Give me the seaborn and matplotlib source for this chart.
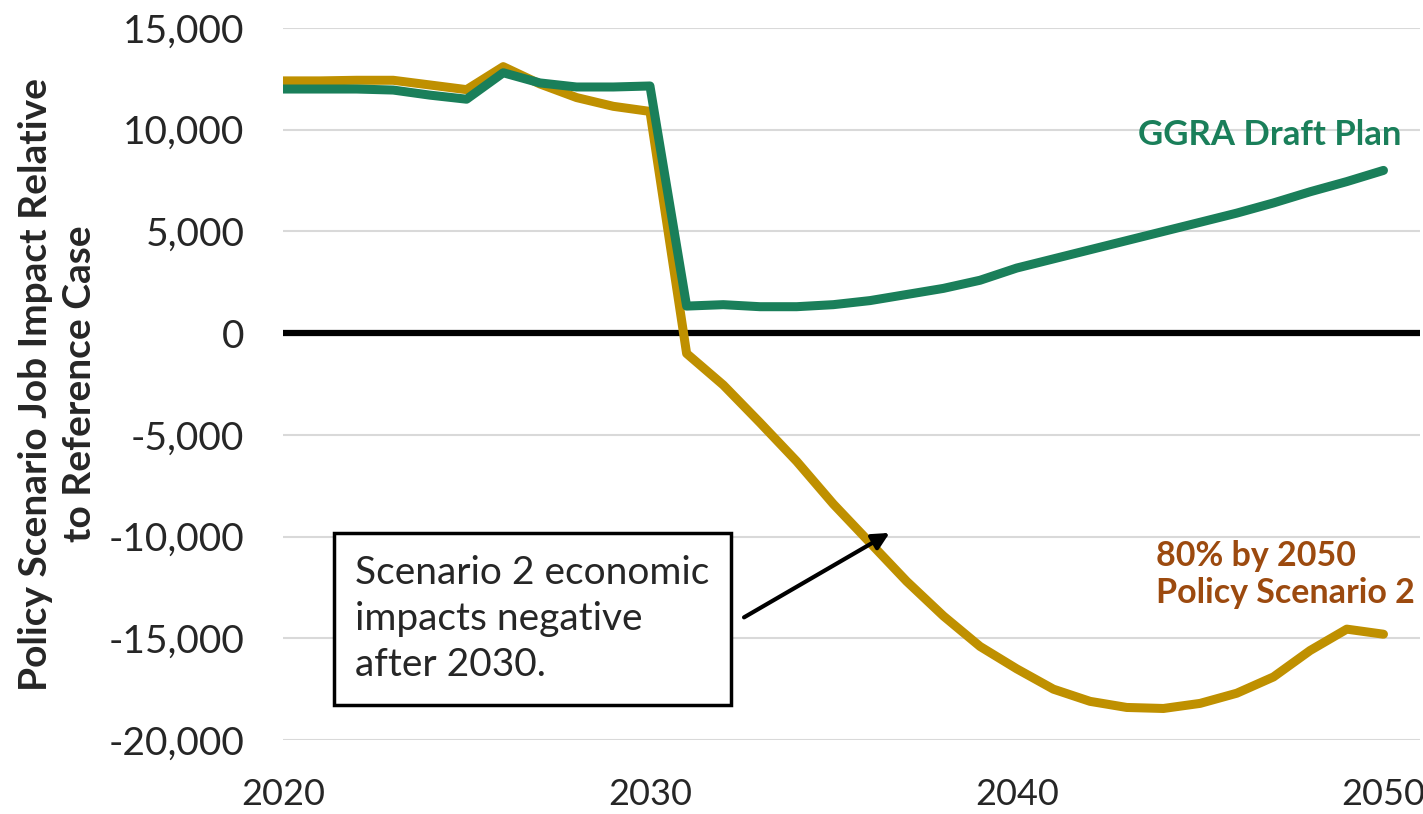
import pandas as pd
import numpy as np
import matplotlib.pyplot as plt
import seaborn as sns

years = list(range(2020, 2051))
ggra = [12000, 12000, 12000, 11950, 11700, 11500, 12800, 12300, 12100, 12100, 12150,
        1330, 1400, 1300, 1300, 1400, 1600, 1900, 2200, 2600, 3200, 3650, 4100, 4550,
        5000, 5450, 5900, 6400, 6950, 7450, 8000]
scen2 = [12400, 12400, 12430, 12430, 12200, 11970, 13100, 12250, 11580, 11150, 10900,
         -1000, -2550, -4400, -6300, -8400, -10300, -12200, -13900, -15400, -16500,
         -17500, -18100, -18400, -18450, -18200, -17700, -16900, -15600, -14550, -14800]

green = "#1a7f5a"
gold = "#bf9000"
brown = "#9c4a0f"

sns.set_style("white")
plt.rcParams['font.family'] = ['Lato', 'DejaVu Sans']

df = pd.DataFrame({"Year": years, "GGRA": ggra, "Scenario2": scen2})

fig = plt.figure(figsize=(14.23, 8.14), dpi=100)
ax = fig.add_axes([0.199, 0.0909, 0.799, 0.8747])

# gridlines + zero axis line
for y in range(-20000, 15001, 5000):
    ax.axhline(y, color="#d9d9d9", lw=1.5, zorder=0)
ax.axhline(0, color="black", lw=4.5, zorder=1)

sns.lineplot(data=df, x="Year", y="Scenario2", color=gold, lw=6.5, ax=ax, zorder=3)
sns.lineplot(data=df, x="Year", y="GGRA", color=green, lw=6.5, ax=ax, zorder=4)

ax.set_xlim(2020, 2051)
ax.set_ylim(-20000, 15000)
ax.set_xticks([2020, 2030, 2040, 2050])
ax.set_yticks(range(-20000, 15001, 5000))
ax.yaxis.set_major_formatter(plt.FuncFormatter(lambda v, p: f"{int(v):,}"))
ax.tick_params(axis="x", labelsize=26, pad=27, length=0)
ax.tick_params(axis="y", labelsize=28, pad=28, length=0)
for s in ax.spines.values():
    s.set_visible(False)

ax.set_xlabel("")
ax.set_ylabel("Policy Scenario Job Impact Relative\nto Reference Case",
              fontsize=28, fontweight="bold", linespacing=1.3)
ax.yaxis.set_label_coords(-0.164, 0.5)

ax.text(2043.3, 9750, "GGRA Draft Plan", color=green, fontsize=25,
        fontweight="bold", va="center", ha="left")
ax.text(2043.8, -11850, "80% by 2050\nPolicy Scenario 2", color=brown, fontsize=24.5,
        fontweight="bold", va="center", ha="left", linespacing=1.2)

# callout box with arrow
ax.text(2021.96, -14050, "Scenario 2 economic\nimpacts negative\nafter 2030.",
        fontsize=28, va="center", ha="left", linespacing=1.35,
        bbox=dict(boxstyle="square,pad=0.55", fc="white", ec="black", lw=2.5), zorder=6)
ax.annotate("", xy=(2036.6, -9750), xytext=(2032.5, -14040),
            arrowprops=dict(arrowstyle="-|>", color="black", lw=3, mutation_scale=25),
            zorder=5)

plt.savefig("out.png", dpi=100)
